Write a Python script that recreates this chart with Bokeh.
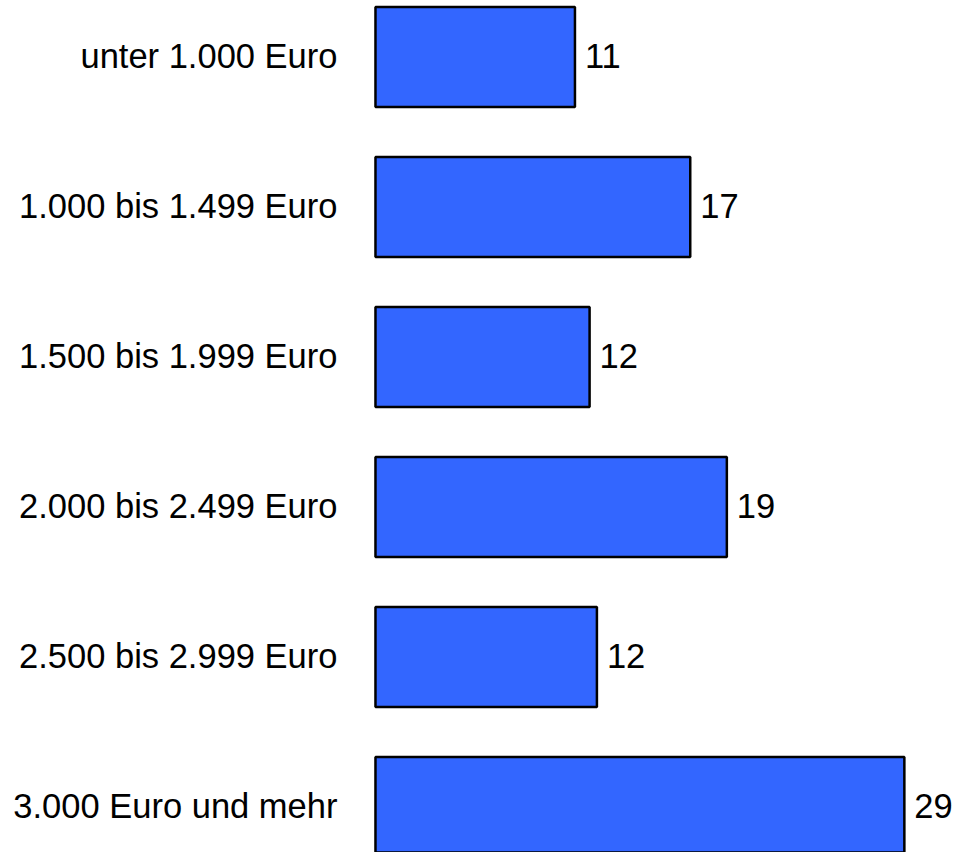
from bokeh.plotting import figure
from bokeh.models import Range1d, ColumnDataSource
from bokeh.core.properties import value
from bokeh.embed import file_html
from bokeh.resources import INLINE

categories = ["unter 1.000 Euro", "1.000 bis 1.499 Euro", "1.500 bis 1.999 Euro",
              "2.000 bis 2.499 Euro", "2.500 bis 2.999 Euro", "3.000 Euro und mehr"]
values = [10.9, 17.2, 11.7, 19.2, 12.1, 28.9]
value_labels = ["11", "17", "12", "19", "12", "29"]

pos = list(range(len(categories)))
src = ColumnDataSource(dict(y=pos, v=values, cat=categories, lab=value_labels,
                            zero=[0] * len(pos)))

p = figure(width=954, height=852, output_backend="svg", toolbar_location=None,
           x_range=Range1d(-20.49, 31.64), y_range=Range1d(5.3033, -0.3767),
           min_border=0, outline_line_color=None)
p.axis.visible = False
p.grid.visible = False
p.background_fill_color = "white"
p.border_fill_color = "white"

p.hbar(y="y", left=0, right="v", height=0.667, source=src,
       fill_color="#3366FF", line_color="black", line_width=2.5)

p.text(x="zero", y="y", text="cat", source=src, x_offset=-38, y_offset=-1,
       text_align="right", text_baseline="middle",
       text_font=value("Liberation Sans"), text_font_size="34.5px", text_color="black")
p.text(x="v", y="y", text="lab", source=src, x_offset=10, y_offset=-1,
       text_align="left", text_baseline="middle",
       text_font=value("Liberation Sans"), text_font_size="34.5px", text_color="black")

open("out.html", "w").write(file_html(p, INLINE))
